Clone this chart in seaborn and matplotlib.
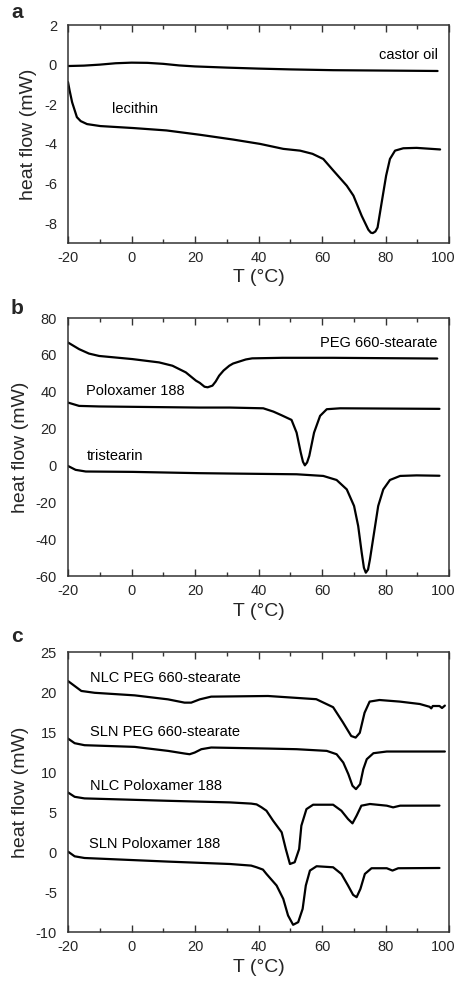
import matplotlib
matplotlib.use("Agg")
import matplotlib.pyplot as plt
import matplotlib.transforms as mtransforms
import seaborn as sns
import pandas as pd
from matplotlib.ticker import MultipleLocator

sns.set_theme(style="ticks")
plt.rcParams['font.family'] = ['Liberation Sans', 'DejaVu Sans']
plt.rcParams['axes.unicode_minus'] = False

# ---------------- data ----------------
# panel a
castor_T = [-20, -15, -10, -5, 0, 5, 10, 15, 20, 30, 40, 50, 63.5, 80, 96.4]
castor_H = [-0.07, -0.05, 0.0, 0.07, 0.1, 0.09, 0.04, -0.04, -0.09, -0.15, -0.2, -0.24, -0.28, -0.3, -0.32]
lecithin_T = [-20, -19.5, -18.7, -17.2, -16, -14, -9.8, 0.6, 11, 21.6, 32, 40.5, 47.8, 53.1, 57, 60.4,
              63.6, 67.8, 69.9, 72.5, 74.6, 75.4, 76.0, 76.8, 77.5, 78.8, 80.2, 81.4, 83.0, 85.6, 89.8, 97.2]
lecithin_H = [-0.88, -1.3, -1.9, -2.65, -2.85, -3.0, -3.1, -3.2, -3.32, -3.54, -3.78, -4.0, -4.25, -4.34, -4.5, -4.76,
              -5.35, -6.11, -6.61, -7.63, -8.33, -8.48, -8.5, -8.42, -8.22, -6.95, -5.6, -4.76, -4.34, -4.22, -4.2, -4.28]

# panel b
peg_T = [-20, -16.5, -13.4, -10.2, 0.3, 8.7, 12.9, 17.1, 20.3, 21.5, 23, 24, 25.5, 26.5, 27.6, 29,
         30.8, 32, 34, 36, 38, 47.5, 63.4, 96.3]
peg_H = [66.7, 63.1, 60.7, 59.4, 57.7, 55.9, 54.1, 50.5, 46, 44.8, 42.7, 42.4, 43.3, 45.5, 48.7, 51.5,
         54.1, 55.3, 56.4, 57.5, 58.1, 58.4, 58.4, 58.0]
polox_T = [-20, -16.5, -10.2, 21.3, 31.0, 41.5, 44.7, 47.3, 50.4, 52.0, 53.3, 54.0, 54.6, 55.3, 56.0, 57.5,
           59.4, 61.5, 65.7, 97]
polox_H = [34.1, 32.3, 32.0, 31.4, 31.4, 31.0, 29.2, 27.2, 24.7, 17.8, 7.0, 2.0, 0.05, 1.6, 5.2, 17.8,
           26.9, 30.5, 31.0, 30.7]
trist_T = [-20, -17.6, -14.4, 0.3, 21.3, 31.0, 52.0, 60.4, 64.6, 67.8, 70.1, 71.4, 72.5, 73.2, 73.8,
           74.5, 75.1, 76.4, 77.7, 79.3, 81.4, 84.6, 89.8, 97]
trist_H = [-0.3, -2.4, -3.3, -3.5, -4.2, -4.4, -4.8, -5.7, -7.9, -13.0, -22, -32.9, -47.3, -55.5, -58.2,
           -56.5, -51, -36.5, -22, -13.0, -7.9, -5.7, -5.4, -5.6]

# panel c
nlc_peg_T = [-20, -17.9, -15.8, -11.6, 1.0, 11.5, 16.7, 18.8, 21.5, 25.1, 43, 58.2, 63.5, 66.6,
             69.2, 70.6, 71.9, 73.4, 75, 78.1, 84.5, 90.8, 93.9, 94.4, 94.9, 97, 97.8, 98.7]
nlc_peg_H = [21.37, 20.75, 20.13, 19.9, 19.58, 19.08, 18.67, 18.67, 19.08, 19.42, 19.5, 19.1, 18.1, 16.2,
             14.5, 14.3, 14.9, 17.4, 18.8, 19.0, 18.8, 18.5, 18.15, 17.95, 18.25, 18.25, 18.0, 18.3]
sln_peg_T = [-20, -17.9, -14.8, 1.0, 11.5, 16.7, 18.3, 19.9, 22.0, 25.1, 43, 52.0, 61.5, 64.6,
             66.7, 68.3, 69.6, 70.7, 72.0, 73.0, 74.1, 76.2, 80.4, 98.7]
sln_peg_H = [14.18, 13.6, 13.35, 13.14, 12.64, 12.31, 12.22, 12.43, 12.85, 13.06, 12.93, 12.85, 12.64, 12.22,
             11.18, 9.73, 8.28, 7.86, 8.48, 10.35, 11.6, 12.35, 12.56, 12.56]
nlc_pol_T = [-20, -17.9, -14.8, 11.5, 31.0, 37.7, 39.4, 40.9, 42.5, 44.6, 47.3, 48.6, 49.9, 51.4, 52.8,
             53.5, 55.1, 57.2, 63.5, 66.1, 68.2, 69.6, 70.9, 72.4, 75.1, 80.4, 82.4, 84.6, 97]
nlc_pol_H = [7.44, 6.9, 6.7, 6.4, 6.2, 6.05, 5.95, 5.6, 5.16, 3.91, 2.46, 0.37, -1.5, -1.28, 0.37,
             3.29, 5.36, 5.91, 5.91, 5.16, 4.12, 3.58, 4.54, 5.79, 6.0, 5.79, 5.58, 5.79, 5.8]
sln_pol_T = [-20, -17.9, -14.8, 11.5, 31.0, 37.7, 39.4, 41.4, 42.5, 45.7, 47.8, 49.3, 50.9, 52.5, 53.9,
             54.9, 56.2, 58.3, 63.5, 66.1, 68.2, 69.8, 70.9, 72.1, 73.5, 75.6, 80.4, 82.2, 84.0, 97]
sln_pol_H = [0.05, -0.54, -0.75, -1.2, -1.5, -1.7, -1.91, -2.2, -2.74, -4.19, -5.86, -7.93, -9.1, -8.77, -7.11,
             -4.19, -2.32, -1.78, -1.91, -2.74, -4.19, -5.36, -5.65, -4.61, -2.74, -2.03, -2.03, -2.32, -2.03, -2.0]

# labels
a_labels = ["castor oil", "lecithin"]
b_labels = ["PEG 660-stearate", "Poloxamer 188", "tristearin"]
c_labels = ["NLC PEG 660-stearate", "SLN PEG 660-stearate", "NLC Poloxamer 188", "SLN Poloxamer 188"]
panel_letters = ["a", "b", "c"]
x_ticks = [-20, 0, 20, 40, 60, 80, 100]

# ---------------- figure ----------------
W, H = 458, 985
fig = plt.figure(figsize=(W / 100, H / 100), dpi=100)

def rect(left, top, right, bottom):
    return [left / W, 1 - bottom / H, (right - left) / W, (bottom - top) / H]

ax_a = fig.add_axes(rect(68, 25, 449, 243))
ax_b = fig.add_axes(rect(68, 318, 449, 576))
ax_c = fig.add_axes(rect(68, 652, 449, 932))

spine_col = "#333333"
line_kw = dict(color="black", linewidth=1.6, estimator=None, sort=False, legend=False)

def draw(ax, T, Hv):
    df = pd.DataFrame({"T": T, "H": Hv})
    sns.lineplot(data=df, x="T", y="H", ax=ax, **line_kw)
    ax.lines[-1].set_solid_joinstyle("round")
    ax.lines[-1].set_solid_capstyle("round")

draw(ax_a, castor_T, castor_H)
draw(ax_a, lecithin_T, lecithin_H)
draw(ax_b, peg_T, peg_H)
draw(ax_b, polox_T, polox_H)
draw(ax_b, trist_T, trist_H)
draw(ax_c, nlc_peg_T, nlc_peg_H)
draw(ax_c, sln_peg_T, sln_peg_H)
draw(ax_c, nlc_pol_T, nlc_pol_H)
draw(ax_c, sln_pol_T, sln_pol_H)

ylims = [(-9, 2), (-60, 80), (-10, 25)]
ysteps = [2, 20, 5]
for ax, (lo, hi), st in zip([ax_a, ax_b, ax_c], ylims, ysteps):
    ax.set_xlim(-20, 100)
    ax.set_ylim(lo, hi)
    ax.set_xticks(x_ticks)
    ax.xaxis.set_minor_locator(MultipleLocator(10))
    ax.yaxis.set_major_locator(MultipleLocator(st))
    ax.tick_params(axis="x", which="major", direction="in", top=True, bottom=True,
                   length=5, width=1.0, color=spine_col, labelsize=10.5, pad=6)
    ax.tick_params(axis="x", which="minor", direction="in", top=True, bottom=True,
                   length=3, width=1.0, color=spine_col)
    ax.tick_params(axis="y", which="both", length=0, labelsize=10.5, pad=8)
    for s in ax.spines.values():
        s.set_visible(True)
        s.set_color(spine_col)
        s.set_linewidth(1.1)
    ax.set_xlabel("T (°C)", fontsize=14, labelpad=3)
    ax.set_ylabel("heat flow (mW)", fontsize=14, labelpad=5)
    ax.grid(False)
    # keep the last x tick label inside the figure, as in the reference
    fig.canvas.draw()
    last = ax.get_xticklabels()[-1]
    last.set_transform(last.get_transform() +
                       mtransforms.ScaledTranslation(-6 / 100, 0, fig.dpi_scale_trans))

txt = dict(fontsize=10.5, color="black", va="center")
ax_a.text(96.4, 0.5, a_labels[0], ha="right", **txt)
ax_a.text(-6.2, -2.26, a_labels[1], ha="left", **txt)
ax_b.text(96.3, 66.3, b_labels[0], ha="right", **txt)
ax_b.text(-14.4, 40.4, b_labels[1], ha="left", **txt)
ax_b.text(-14.2, 5.2, b_labels[2], ha="left", **txt)
ax_c.text(-13.2, 21.7, c_labels[0], ha="left", **txt)
ax_c.text(-13.2, 15.04, c_labels[1], ha="left", **txt)
ax_c.text(-13.2, 8.27, c_labels[2], ha="left", **txt)
ax_c.text(-13.4, 1.0, c_labels[3], ha="left", **txt)

for letter, ypix in zip(panel_letters, [13, 308, 637]):
    fig.text(11 / W, 1 - ypix / H, letter, fontsize=15, fontweight="bold",
             ha="left", va="center")

fig.savefig("out.png", dpi=100)
